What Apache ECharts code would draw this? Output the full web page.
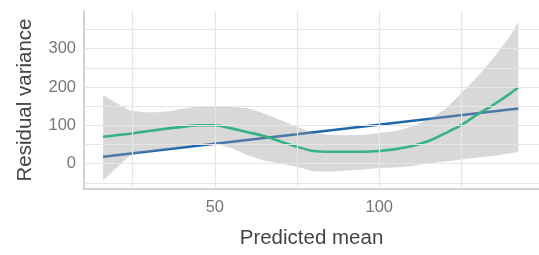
<!DOCTYPE html>
<html>
<head>
<meta charset="utf-8">
<script src="https://cdn.jsdelivr.net/npm/echarts@6/dist/echarts.min.js"></script>
<style>
html,body{margin:0;padding:0;background:#fff;}
#chart{width:539px;height:255px;}
</style>
</head>
<body>
<div id="chart"></div>
<script>
// Predicted mean grid for the smooth and ribbon
const xs = [16, 20, 24, 28, 32, 36, 40, 45, 50, 55, 60, 65, 70, 75, 80, 85, 90, 95, 100, 105, 110, 115, 120, 125, 130, 135, 140, 142.3];
// loess smooth (green)
const smoothY = [70, 74, 78, 83, 87.5, 92, 96, 100, 100, 92, 82, 72, 58, 44, 33, 31, 31, 31, 33, 38, 46, 59, 79, 101, 129, 155, 184, 199];
// confidence band
const upperY = [179, 158, 139, 134, 134, 137, 143, 149, 150, 148, 145, 131, 113, 96, 80, 75, 74, 75, 80, 85, 97, 116, 141, 184, 228, 278, 335, 370];
const lowerY = [-43, -12, 20, 30, 33, 39, 44, 50, 52, 41, 22, 8, 0, -8, -20, -21, -18, -15, -11, -10, -6, 1, 6, 11, 16, 21, 27, 31];
// linear fit (blue)
const linX = [16, 142.3];
const linY = [18, 144];
// ticks and grid lines
const xTicks = [50, 100];
const yTicks = [0, 100, 200, 300];
const xGrid = [25, 50, 75, 100, 125];
const yGrid = [-50, 0, 50, 100, 150, 200, 250, 300, 350];

const chart = echarts.init(document.getElementById('chart'), null, {renderer: 'canvas'});
const font = '"Liberation Sans", Arial, Helvetica, sans-serif';
const gridColor = '#e6e6e6';

const bandData = xs.map((x, i) => [x, lowerY[i], upperY[i]]);
const smoothData = xs.map((x, i) => [x, smoothY[i]]);
const linData = linX.map((x, i) => [x, linY[i]]);

const gridLines = xGrid.map(v => ({xAxis: v})).concat(yGrid.map(v => ({yAxis: v})));

function renderBand(params, api) {
  if (params.dataIndex !== 0) return;
  const pts = [];
  for (let i = 0; i < xs.length; i++) pts.push(api.coord([xs[i], upperY[i]]));
  for (let i = xs.length - 1; i >= 0; i--) pts.push(api.coord([xs[i], lowerY[i]]));
  return {
    type: 'polygon',
    shape: {points: pts},
    style: {fill: 'rgba(153,153,153,0.38)', stroke: null},
    silent: true
  };
}

chart.setOption({
  animation: false,
  backgroundColor: '#fff',
  grid: {left: 84, right: 0, top: 11, bottom: 66, containLabel: false},
  xAxis: {
    type: 'value', min: 10.2, max: 148.6,
    name: 'Predicted mean', nameLocation: 'middle', nameGap: 39,
    nameTextStyle: {fontFamily: font, fontSize: 20.5, color: '#444'},
    axisLine: {show: true, onZero: false, lineStyle: {color: '#c4c4c4', width: 1.5}},
    axisTick: {show: false},
    splitLine: {show: false},
    axisLabel: {
      customValues: xTicks, margin: 10,
      fontFamily: font, fontSize: 16.5, color: '#777',
      formatter: v => xTicks.indexOf(v) >= 0 ? String(v) : ''
    }
  },
  yAxis: {
    type: 'value', min: -66, max: 398,
    name: 'Residual variance', nameLocation: 'middle', nameGap: 48, nameRotate: 90,
    nameTextStyle: {fontFamily: font, fontSize: 20.5, color: '#444'},
    axisLine: {show: true, onZero: false, lineStyle: {color: '#c4c4c4', width: 1.5}},
    axisTick: {show: false},
    splitLine: {show: false},
    axisLabel: {
      customValues: yTicks, margin: 8,
      fontFamily: font, fontSize: 16.5, color: '#777',
      formatter: v => yTicks.indexOf(v) >= 0 ? String(v) : ''
    }
  },
  series: [
    {
      name: 'grid', type: 'line', data: linData, symbol: 'none',
      lineStyle: {opacity: 0}, silent: true, z: 0,
      markLine: {
        silent: true, symbol: 'none', label: {show: false},
        lineStyle: {color: gridColor, width: 1.2, type: 'solid'},
        emphasis: {disabled: true},
        data: gridLines
      }
    },
    {
      name: 'linear', type: 'line', data: linData, symbol: 'none', z: 1,
      lineStyle: {color: '#1d67ad', width: 2.6}
    },
    {
      name: 'band', type: 'custom', data: bandData,
      encode: {x: 0, y: [1, 2]},
      renderItem: renderBand, silent: true, z: 2
    },
    {
      name: 'smooth', type: 'line', data: smoothData, symbol: 'none', smooth: 0.3, z: 3,
      lineStyle: {color: '#37b383', width: 2.6}
    }
  ]
});
</script>
</body>
</html>
